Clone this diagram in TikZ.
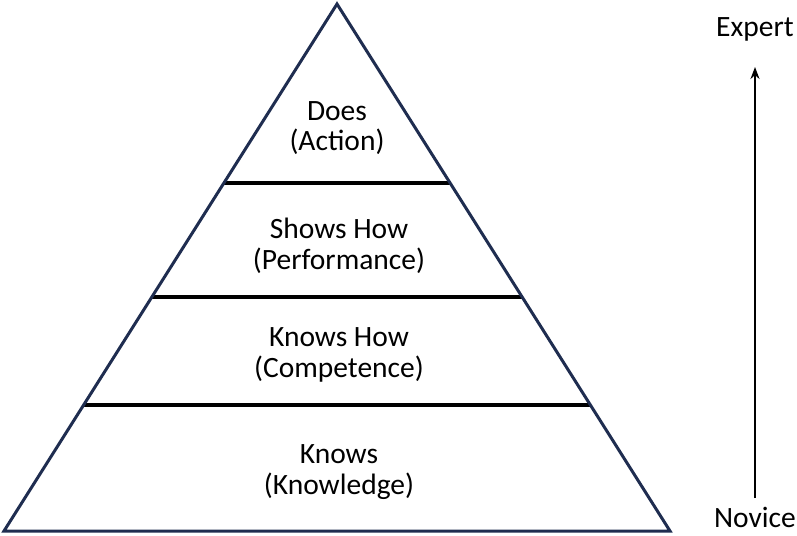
\documentclass[tikz,border=0pt]{standalone}
\usepackage{fontspec}
\setmainfont{Carlito}
\usetikzlibrary{calc,arrows.meta}
\definecolor{navy}{HTML}{1F2D50}
\tikzset{
  lbl/.style={align=center,font=\fontsize{29.5}{30.5}\selectfont,inner sep=0pt},
  tier/.style={line width=3.4pt,black},
  edge/.style={line width=3pt,navy,line join=miter},
}
\begin{document}
\begin{tikzpicture}[x=1pt,y=-1pt]
\useasboundingbox (0,0) rectangle (797,535);
\coordinate (A) at (337,4);
\coordinate (L) at (4,531);
\coordinate (R) at (670,531);
\foreach \n/\t in {a/0.3397,b/0.556,c/0.761}{
  \coordinate (\n l) at ($(A)!\t!(L)$);
  \coordinate (\n r) at ($(A)!\t!(R)$);
}
\draw[tier] (al) -- (ar);
\draw[tier] (bl) -- (br);
\draw[tier] (cl) -- (cr);
\draw[edge] (A) -- (L) -- (R) -- cycle;
\node[lbl] (does) at (337,128) {Does\\(Action)};
\node[lbl] (shows) at (339,246) {Shows How\\(Performance)};
\node[lbl] (knowshow) at (339,355) {Knows How\\(Competence)};
\node[lbl] (knows) at (339,472) {Knows\\(Knowledge)};
\node[lbl] (expert) at (755,29) {Expert};
\node[lbl] (novice) at (755,517) {Novice};
\coordinate (bot) at (755,498);
\coordinate (top) at (755,67);
\draw[line width=2.2pt,-{Stealth[length=12pt,width=9pt]}] (bot) -- (top);
\end{tikzpicture}
\end{document}
